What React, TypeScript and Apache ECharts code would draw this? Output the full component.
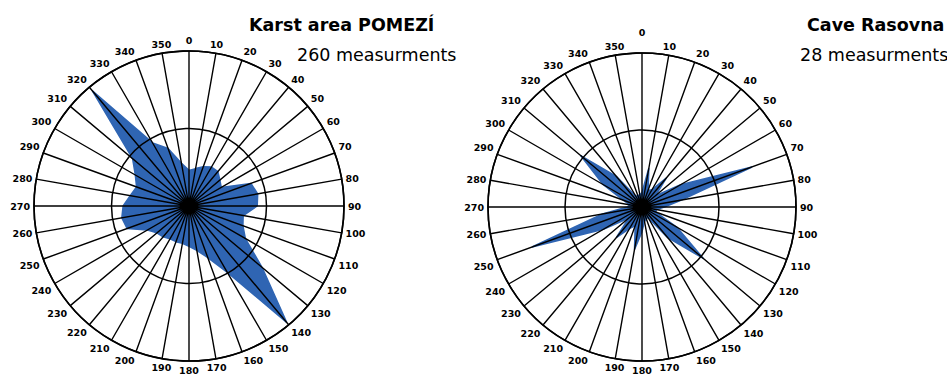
import React, { useEffect, useRef } from "react";
import * as echarts from "echarts";

// Direction bins (degrees, clockwise from north)
const directions = [
  0, 10, 20, 30, 40, 50, 60, 70, 80, 90, 100, 110,
  120, 130, 140, 150, 160, 170, 180, 190, 200, 210, 220, 230,
  240, 250, 260, 270, 280, 290, 300, 310, 320, 330, 340, 350,
];

const pomeziValues = [
  4.6, 4.9, 5.4, 5.8, 5.8, 5.2, 4.8, 8.5, 9.0, 8.8, 7.1, 7.4,
  8.4, 12.3, 19.6, 9.9, 7.1, 5.8, 5.2, 4.9, 4.9, 4.9, 5.2, 5.4,
  6.2, 8.5, 8.8, 8.5, 7.7, 7.2, 8.0, 9.5, 19.4, 9.4, 7.9, 5.6,
];

// Cave Rasovna (28 measurements)
const rasovnaValues = [
  1.9, 5.1, 2.3, 2.6, 4.9, 2.3, 5.8, 15.2, 5.2, 2.9, 1.9, 1.9,
  5.2, 10.4, 5.2, 1.6, 1.6, 1.9, 3.2, 5.6, 2.6, 3.2, 5.2, 2.3,
  5.8, 15.2, 5.2, 1.9, 1.6, 2.6, 5.8, 10.4, 5.2, 1.6, 1.6, 1.6,
];

const radiusMax = 20;
const radiusStep = 10;

const chartTitles = ["Karst area POMEZÍ", "Cave Rasovna"];
const chartSubtitles = ["260 measurments", "28 measurments"];

const BLUE = "#2f65b3";
const FONT = "DejaVu Sans";

function toPolar(values: number[]) {
  const d = directions.map((a, i) => [values[i], a]);
  d.push([values[0], 360]);
  return d;
}

function angleAxis(polarIndex: number, topPad: number) {
  return {
    polarIndex,
    type: "value",
    min: 0,
    max: 360,
    interval: 10,
    startAngle: 90,
    clockwise: true,
    z: 5,
    axisLine: { show: true, lineStyle: { color: "#000", width: 1.6 } },
    axisTick: { show: false },
    splitLine: { show: true, lineStyle: { color: "#000", width: 1.4 } },
    axisLabel: {
      show: true,
      margin: 4,
      color: "#000",
      fontSize: 9.5,
      fontWeight: "bold",
      fontFamily: FONT,
      formatter: (v: number) => (v === 360 ? "" : v === 0 ? "{top|0}" : String(v)),
      rich: {
        top: { fontSize: 9.5, fontWeight: "bold", fontFamily: FONT, color: "#000", padding: [0, 0, topPad, 0] },
      },
    },
  };
}

function radiusAxis(polarIndex: number) {
  return {
    polarIndex,
    type: "value",
    min: 0,
    max: radiusMax,
    interval: radiusStep,
    z: 5,
    axisLine: { show: false },
    axisTick: { show: false },
    axisLabel: { show: false },
    splitLine: { show: true, lineStyle: { color: "#000", width: 1.5 } },
  };
}

function roseSeries(polarIndex: number, values: number[]) {
  return {
    type: "line",
    coordinateSystem: "polar",
    polarIndex,
    data: toPolar(values),
    symbol: "none",
    z: 1,
    lineStyle: { color: BLUE, width: 1.5 },
    areaStyle: { color: BLUE, opacity: 1 },
  };
}

export default function App() {
  const ref = useRef<HTMLDivElement>(null);
  useEffect(() => {
    if (!ref.current) return;
    const chart = echarts.init(ref.current, undefined, { renderer: "svg" });
    chart.setOption({
      animation: false,
      backgroundColor: "#fff",
      polar: [
        { center: [189, 206], radius: 155 },
        { center: [642, 207], radius: 154 },
      ],
      angleAxis: [angleAxis(0, 2), angleAxis(1, 12)],
      radiusAxis: [radiusAxis(0), radiusAxis(1)],
      series: [roseSeries(0, pomeziValues), roseSeries(1, rasovnaValues)],
      graphic: [
        {
          type: "text",
          x: 249,
          y: 25,
          style: { text: chartTitles[0], fontSize: 17.5, fontWeight: "bold", fontFamily: FONT, fill: "#000", verticalAlign: "middle", align: "left" },
        },
        {
          type: "text",
          x: 297,
          y: 55,
          style: { text: chartSubtitles[0], fontSize: 17.5, fontFamily: FONT, fill: "#000", verticalAlign: "middle", align: "left" },
        },
        {
          type: "text",
          x: 807,
          y: 25,
          style: { text: chartTitles[1], fontSize: 17.5, fontWeight: "bold", fontFamily: FONT, fill: "#000", verticalAlign: "middle", align: "left" },
        },
        {
          type: "text",
          x: 800,
          y: 55,
          style: { text: chartSubtitles[1], fontSize: 17.5, fontFamily: FONT, fill: "#000", verticalAlign: "middle", align: "left" },
        },
      ],
    });
    return () => chart.dispose();
  }, []);
  return (
    <div
      ref={ref}
      style={{ position: "absolute", left: 0, top: 0, width: 947, height: 385, background: "#fff" }}
    />
  );
}
